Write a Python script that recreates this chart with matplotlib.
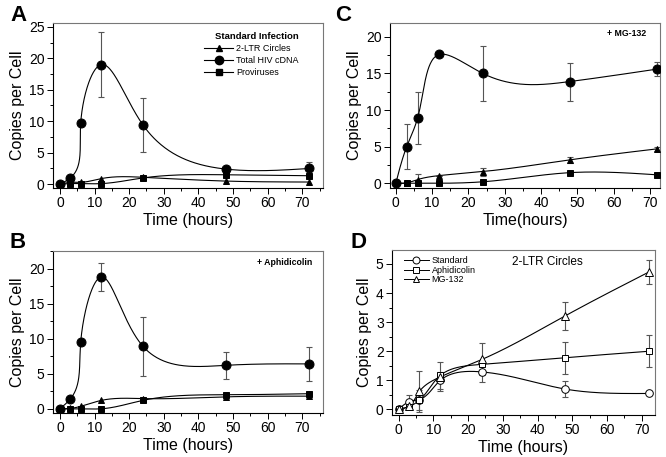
import numpy as np
import matplotlib
matplotlib.use("Agg")
from matplotlib import pyplot as plt
from matplotlib.lines import Line2D
from matplotlib.ticker import MultipleLocator

plt.rcParams["font.family"] = ["Liberation Sans", "DejaVu Sans"]

hours = [0, 3, 6, 12, 24, 48, 72]

# A: standard infection
a_ltr = [0, 0.3, 0.3, 0.9, 1.1, 0.5, 0.35]
a_total = [0, 1.0, 9.7, 19.0, 9.4, 2.4, 2.5]
a_total_err = [0, 0, 0, 5.1, 4.25, 0.3, 1.0]
a_prov = [0, 0.1, 0.1, 0.1, 1.0, 1.5, 1.35]

# B: + aphidicolin
b_ltr = [0, 0.05, 0.35, 1.2, 1.45, 1.7, 1.8]
b_total = [0, 1.4, 9.5, 18.8, 8.9, 6.2, 6.4]
b_total_err = [0, 0, 0, 2.0, 4.2, 1.9, 2.4]
b_prov = [0, 0, 0, 0, 1.2, 2.0, 2.15]

# C: + MG-132
c_ltr = [0, 0.05, 0.5, 1.05, 1.6, 3.2, 4.7]
c_ltr_err = [0, 0, 0.8, 0, 0.55, 0.45, 0.3]
c_total = [0, 5.0, 8.9, 17.6, 15.0, 13.9, 15.6]
c_total_err = [0, 3.1, 3.6, 0, 3.8, 2.6, 1.0]
c_prov = [0, 0, 0, 0, 0.2, 1.45, 1.15]

# D: 2-LTR circles compared
d_std = [0, 0.26, 0.34, 1.0, 1.29, 0.7, 0.55]
d_std_err = [0, 0.25, 0, 0.3, 0.35, 0.28, 0]
d_aph = [0, 0.1, 0.32, 1.17, 1.55, 1.78, 2.0]
d_aph_err = [0, 0, 0.35, 0, 0, 0.55, 0.55]
d_mg = [0, 0.12, 0.62, 1.12, 1.72, 3.22, 4.72]
d_mg_err = [0, 0, 0.7, 0.5, 0.55, 0.48, 0.4]


def natural(t, v, ts):
    # natural cubic spline of v(t), evaluated at ts
    h = np.diff(t)
    m = len(t)
    A = np.zeros((m, m))
    r = np.zeros(m)
    A[0, 0] = A[-1, -1] = 1
    for i in range(1, m - 1):
        A[i, i - 1] = h[i - 1]
        A[i, i] = 2 * (h[i - 1] + h[i])
        A[i, i + 1] = h[i]
        r[i] = 6 * ((v[i + 1] - v[i]) / h[i] - (v[i] - v[i - 1]) / h[i - 1])
    M = np.linalg.solve(A, r)
    k = np.clip(np.searchsorted(t, ts) - 1, 0, m - 2)
    t0 = t[k + 1] - ts
    t1 = ts - t[k]
    hk = h[k]
    return (M[k] * t0 ** 3 + M[k + 1] * t1 ** 3) / (6 * hk) \
        + (v[k] / hk - M[k] * hk / 6) * t0 + (v[k + 1] / hk - M[k + 1] * hk / 6) * t1


def smooth(ax, x, y, n=400):
    # parametric spline through the points, measured in screen pixels
    bb = ax.get_window_extent()
    x0, x1 = ax.get_xlim()
    y0, y1 = ax.get_ylim()
    sx = bb.width / (x1 - x0)
    sy = bb.height / (y1 - y0)
    px = np.asarray(x, float) * sx
    py = np.asarray(y, float) * sy
    t = np.concatenate([[0], np.cumsum(np.hypot(np.diff(px), np.diff(py)))])
    ts = np.linspace(0, t[-1], n)
    return natural(t, px, ts) / sx, natural(t, py, ts) / sy


def draw(ax, y, marker, err=None, ms=4.5, open_=False):
    xs, ys = smooth(ax, hours, y)
    ax.plot(xs, ys, color="black", lw=0.8, zorder=2)
    if err is not None:
        ax.errorbar(hours, y, yerr=err, fmt="none", ecolor="#555555",
                    elinewidth=0.8, capsize=2, capthick=0.8, zorder=1)
    ax.plot(hours, y, linestyle="none", marker=marker, ms=ms,
            mfc="white" if open_ else "black", mec="black", mew=0.7, zorder=3)


def style(ax, xlim, ylim, ymaj, ymin, xlabel="Time (hours)"):
    ax.set_xlim(*xlim)
    ax.set_ylim(*ylim)
    ax.xaxis.set_major_locator(MultipleLocator(10))
    ax.xaxis.set_minor_locator(MultipleLocator(5))
    ax.yaxis.set_major_locator(MultipleLocator(ymaj))
    ax.yaxis.set_minor_locator(MultipleLocator(ymin))
    ax.tick_params(which="both", direction="out", top=False, right=False,
                   labelsize=10, width=0.7, pad=2)
    ax.tick_params(which="major", length=4)
    ax.tick_params(which="minor", length=2.5)
    for s in ["top", "right"]:
        ax.spines[s].set_color("#777777")
    for s in ax.spines.values():
        s.set_linewidth(0.8)
    ax.set_xlabel(xlabel, fontsize=11.5, labelpad=2)
    ax.set_ylabel("Copies per Cell", fontsize=11.5, labelpad=3)


fig = plt.figure(figsize=(6.66, 4.57), dpi=100)
axA = fig.add_axes([0.0796, 0.5886, 0.4054, 0.3611])
axB = fig.add_axes([0.0796, 0.0963, 0.4054, 0.3545])
axC = fig.add_axes([0.5856, 0.5886, 0.4054, 0.3611])
axD = fig.add_axes([0.5886, 0.0919, 0.3949, 0.3611])

# A
style(axA, (-2, 76), (-0.6, 25.6), 5, 2.5)
draw(axA, a_ltr, "^")
draw(axA, a_total, "o", a_total_err, ms=6.5)
draw(axA, a_prov, "s")
handles = [Line2D([], [], color="black", lw=0.8, marker="^", ms=4.5),
           Line2D([], [], color="black", lw=0.8, marker="o", ms=6),
           Line2D([], [], color="black", lw=0.8, marker="s", ms=4.5)]
leg = axA.legend(handles, ["2-LTR Circles", "Total HIV cDNA", "Proviruses"],
                 title="Standard Infection", loc="upper left",
                 bbox_to_anchor=(0.53, 0.995), frameon=False, fontsize=6.5,
                 title_fontproperties={"weight": "bold", "size": 6.8},
                 handlelength=3.2, labelspacing=0.35, handletextpad=0.3)
leg._legend_box.align = "right"

# B
style(axB, (-2, 76), (-0.6, 22.5), 5, 2.5)
draw(axB, b_ltr, "^")
draw(axB, b_total, "o", b_total_err, ms=6.5)
draw(axB, b_prov, "s")
axB.text(0.96, 0.93, "+ Aphidicolin", transform=axB.transAxes, ha="right",
         va="center", fontsize=6.3, fontweight="bold")

# C
style(axC, (-1.6, 72.8), (-0.65, 21.9), 5, 2.5, xlabel="Time(hours)")
draw(axC, c_ltr, "^", c_ltr_err)
draw(axC, c_total, "o", c_total_err, ms=6.5)
draw(axC, c_prov, "s")
axC.text(0.95, 0.935, "+ MG-132", transform=axC.transAxes, ha="right",
         va="center", fontsize=6.3, fontweight="bold")

# D
style(axD, (-1.9, 73.8), (-0.19, 5.48), 1, 0.5)
draw(axD, d_std, "o", d_std_err, ms=5.5, open_=True)
draw(axD, d_aph, "s", d_aph_err, ms=5, open_=True)
draw(axD, d_mg, "^", d_mg_err, ms=5.5, open_=True)
handles = [Line2D([], [], color="black", lw=0.7, marker=m, ms=5, mfc="white", mew=0.7)
           for m in ["o", "s", "^"]]
axD.legend(handles, ["Standard", "Aphidicolin", "MG-132"], loc="upper left",
           bbox_to_anchor=(0.02, 1.0), frameon=False, fontsize=6.5,
           handlelength=2.8, labelspacing=0.05, handletextpad=0.3,
           borderaxespad=0.3)
axD.text(0.455, 0.925, "2-LTR Circles", transform=axD.transAxes, ha="left",
         va="center", fontsize=8.5)

for label, x, y in [("A", 0.015, 0.965), ("B", 0.015, 0.47),
                    ("C", 0.503, 0.965), ("D", 0.527, 0.47)]:
    fig.text(x, y, label, fontsize=16, fontweight="bold", ha="left", va="center")

fig.savefig("out.png", dpi=100)
plt.close(fig)
